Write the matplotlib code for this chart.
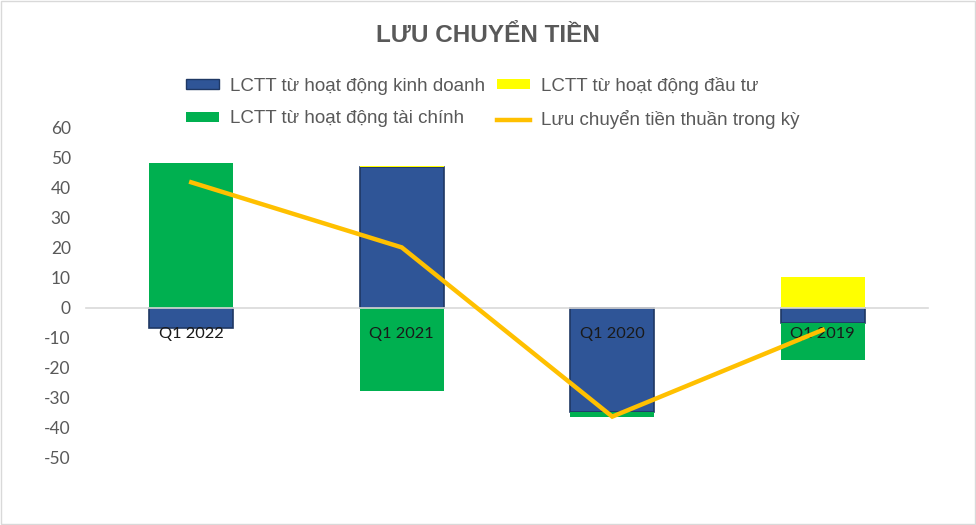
import matplotlib.pyplot as plt
import numpy as np
from matplotlib.patches import Rectangle

categories = ["Q1 2022", "Q1 2021", "Q1 2020", "Q1 2019"]
kinh_doanh = [-6.7, 47.1, -34.8, -5.1]
dau_tu = [0.0, 0.3, 0.0, 10.4]
tai_chinh = [48.2, -27.6, -1.6, -12.2]
thuan = [41.9, 20.2, -36.2, -7.3]

series_names = ["LCTT từ hoạt động kinh doanh", "LCTT từ hoạt động đầu tư",
                "LCTT từ hoạt động tài chính"]
line_name = "Lưu chuyển tiền thuần trong kỳ"
yticks = list(range(-50, 61, 10))

fig = plt.figure(figsize=(9.76, 5.25), dpi=100)
ax = fig.add_axes([86 / 976, 1 - 458 / 525, 842 / 976, 330 / 525])

x = np.arange(len(categories))
pos_base = np.zeros(len(categories))
neg_base = np.zeros(len(categories))
styles = [
    dict(color="#2F5597", edgecolor="#1F3864", linewidth=1.2),
    dict(color="#FFFF00", edgecolor="none"),
    dict(color="#00B050", edgecolor="none"),
]
for vals, st in zip([kinh_doanh, dau_tu, tai_chinh], styles):
    vals = np.array(vals)
    bottom = np.where(vals >= 0, pos_base, neg_base)
    ax.bar(x, vals, width=0.4, bottom=bottom, zorder=1, **st)
    pos_base += np.where(vals >= 0, vals, 0)
    neg_base += np.where(vals < 0, vals, 0)

ax.plot(x, thuan, color="#FFC000", linewidth=3.2, zorder=3,
        solid_joinstyle="miter")

# spine position first: moving it resets the tick labels
for s in ["top", "right", "left"]:
    ax.spines[s].set_visible(False)
ax.spines["bottom"].set_position(("data", 0))
ax.spines["bottom"].set_color("#D9D9D9")
ax.spines["bottom"].set_linewidth(1.2)
ax.spines["bottom"].set_zorder(2)

ax.set_xlim(-0.5, len(categories) - 0.5)
ax.set_ylim(-50, 60)
ax.tick_params(axis="both", length=0)
ax.tick_params(axis="y", pad=11)
ax.tick_params(axis="x", pad=14)
ax.set_yticks(yticks)
ax.set_yticklabels([str(v) for v in yticks], fontsize=12.5,
                   family="Lato", color="#595959")
ax.set_xticks(x)
ax.set_xticklabels(categories, fontsize=11.8, family="Lato", color="#1a1a1a")

fig.text(0.5, 1 - 36 / 525, "LƯU CHUYỂN TIỀN", ha="center", va="center",
         fontsize=17.5, fontweight="bold", color="#595959",
         family="Liberation Sans")

handles = [
    Rectangle((0, 0), 1, 1, facecolor="#2F5597", edgecolor="#1F3864"),
    Rectangle((0, 0), 1, 1, facecolor="#00B050"),
    Rectangle((0, 0), 1, 1, facecolor="#FFFF00"),
    plt.Line2D([], [], color="#FFC000", linewidth=3.2),
]
labels = [series_names[0], series_names[2], series_names[1], line_name]
fig.legend(handles, labels, ncol=2, loc="center",
           bbox_to_anchor=(0.505, 1 - 103 / 525), frameon=False,
           prop=dict(family="Liberation Sans", size=13.5),
           labelcolor="#595959", handlelength=1.75, handleheight=0.45,
           handletextpad=0.6, columnspacing=0.6, labelspacing=0.85)

fig.patches.append(Rectangle((0.001, 0.001), 0.998, 0.997,
                             transform=fig.transFigure, fill=False,
                             edgecolor="#D9D9D9", linewidth=1))

fig.savefig("out.png", dpi=100)
